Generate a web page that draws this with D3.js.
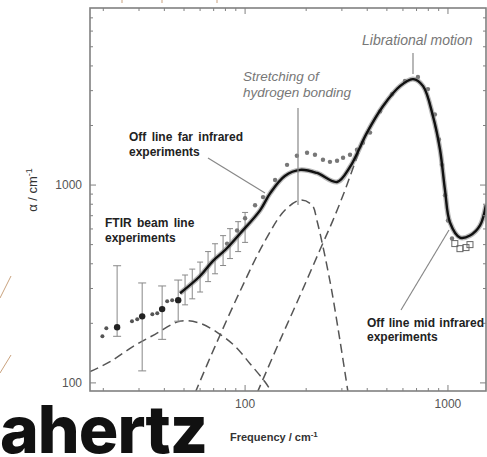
<!DOCTYPE html>
<html><head><meta charset="utf-8">
<script src="https://cdn.jsdelivr.net/npm/d3@7/dist/d3.min.js"></script>
<style>body{margin:0;background:#fff}svg{display:block}</style>
</head><body>
<svg id="c" width="487" height="457"></svg>
<script>
// ---------- data ----------
const xTicks = [100, 1000];
const yTicks = [100, 1000];
const xMinorTicks = [20,30,40,50,60,70,80,90,200,300,400,500,600,700,800,900];
const yMinorTicks = [200,300,400,500,600,700,800,900,2000,3000,4000,5000,6000,7000];

// main fitted / averaged spectrum
const mainFreq  = [47.8, 60, 69.5, 80, 94.5, 118.5, 133, 157, 187, 226, 284, 329, 399, 478, 580, 673, 754, 844, 914, 967, 1023, 1146, 1284, 1439, 1538];
const mainAlpha = [284, 347, 414, 471, 569, 745, 910, 1111, 1193, 1151, 1036, 1235, 1841, 2502, 3162, 3432, 3162, 2223, 1509, 943, 647, 543, 556, 625, 791];

// off line far infrared experiment points
const farFreq  = [81.5, 91.3, 100, 112, 122.6, 140.6, 161, 180, 202, 221, 242, 262, 284, 304, 329, 356, 381, 413, 463, 530, 614, 711, 797, 862, 903, 934, 967, 1000, 1047];
const farAlpha = [506, 589, 679, 791, 869, 1061, 1265, 1406, 1456, 1422, 1342, 1310, 1326, 1373, 1422, 1509, 1637, 1841, 2357, 2877, 3357, 3516, 3055, 2276, 1698, 1265, 889, 662, 537];

// FTIR beam line points with error bars (low frequency)
const ftirFreq  = [23.4, 31.1, 39.0, 46.8];
const ftirAlpha = [191, 217, 236, 262];
const ftirLow   = [172, 115, 166, 205];
const ftirHigh  = [391, 320, 309, 331];
const ftirSmallFreq  = [19.8, 20.7, 27.7, 29.4, 34.9, 36.9, 41.3, 43.7];
const ftirSmallAlpha = [172, 189, 205, 210, 222, 225, 259, 262];

// FTIR error bars along the curve
const barFreq = [50.6, 54.9, 60, 65.7, 71.1, 77.9, 84.3, 92.4, 100];
const barLow  = [248, 266, 288, 325, 356, 392, 425, 461, 513];
const barHigh = [351, 376, 408, 461, 505, 555, 602, 653, 727];

// off line mid infrared points (squares near the minimum)
const midFreq  = [1081, 1146, 1227, 1284];
const midAlpha = [506, 477, 483, 500];

// model components (dashed)
const comp1Freq  = [17.2, 21.6, 28.1, 36, 47.8, 60, 75.3, 89.3, 105.8, 125.5, 136];
const comp1Alpha = [114, 128, 153, 176, 205, 200, 176, 153, 125, 101, 89];
const comp2Freq  = [56.7, 71.1, 94.5, 125.5, 157, 187, 214, 226, 262, 294, 322];
const comp2Alpha = [89, 153, 291, 524, 745, 839, 791, 662, 327, 162, 89];
const comp3Freq  = [114.6, 148.6, 187, 234, 271, 311, 348, 399, 478, 580, 673, 754, 844, 914];
const comp3Alpha = [89, 164, 278, 471, 663, 943, 1295, 1841, 2502, 3162, 3432, 3162, 2223, 1509];

// ---------- drawing ----------
const svg = d3.select('#c');
const L = 90, R = 486, T = 8, B = 391;
const x = d3.scaleLog().domain([17.2, 1540]).range([L, R]);
const y = d3.scaleLog().domain([91, 7850]).range([B, T]);

svg.append('rect').attr('width',487).attr('height',457).attr('fill','#fff');

const defs = svg.append('defs');
defs.append('clipPath').attr('id','clip').append('rect')
  .attr('x',L).attr('y',T).attr('width',R-L).attr('height',B-T);

const plot = svg.append('g').attr('clip-path','url(#clip)');
const line = d3.line().x(d=>x(d[0])).y(d=>y(d[1])).curve(d3.curveCatmullRom.alpha(0.5));
const zip = (a,b)=>a.map((v,i)=>[v,b[i]]);

// dashed components
[[comp1Freq,comp1Alpha],[comp2Freq,comp2Alpha],[comp3Freq,comp3Alpha]].forEach(([f,a])=>{
  plot.append('path').attr('d', line(zip(f,a)))
    .attr('fill','none').attr('stroke','#555').attr('stroke-width',1.5)
    .attr('stroke-dasharray','9,5');
});

// pointer lines
const ptr = [[298,108,298,205],[413,53,413,74],[208,158,265,193],[401,310,449,230]];
svg.append('g').selectAll('line').data(ptr).join('line')
  .attr('x1',d=>d[0]).attr('y1',d=>d[1]).attr('x2',d=>d[2]).attr('y2',d=>d[3])
  .attr('stroke','#888').attr('stroke-width',1.2);

// error bars
const eb = plot.append('g').attr('stroke','#888').attr('stroke-width',1);
ftirFreq.forEach((f,i)=>{
  eb.append('line').attr('x1',x(f)).attr('x2',x(f)).attr('y1',y(ftirLow[i])).attr('y2',y(ftirHigh[i]));
  [ftirLow[i],ftirHigh[i]].forEach(v=>eb.append('line').attr('x1',x(f)-4).attr('x2',x(f)+4).attr('y1',y(v)).attr('y2',y(v)));
});
barFreq.forEach((f,i)=>{
  eb.append('line').attr('x1',x(f)).attr('x2',x(f)).attr('y1',y(barLow[i])).attr('y2',y(barHigh[i]));
  [barLow[i],barHigh[i]].forEach(v=>eb.append('line').attr('x1',x(f)-3).attr('x2',x(f)+3).attr('y1',y(v)).attr('y2',y(v)));
});

// far IR dots
plot.append('g').selectAll('circle').data(zip(farFreq,farAlpha)).join('circle')
  .attr('cx',d=>x(d[0])).attr('cy',d=>y(d[1])).attr('r',2.2).attr('fill','#777');

// main curve
plot.append('path').attr('d', line(zip(mainFreq,mainAlpha)))
  .attr('fill','none').attr('stroke','#888').attr('stroke-width',5).attr('opacity',0.6);
plot.append('path').attr('d', line(zip(mainFreq,mainAlpha)))
  .attr('fill','none').attr('stroke','#111').attr('stroke-width',2.4);

// FTIR dots
plot.append('g').selectAll('circle').data(zip(ftirSmallFreq,ftirSmallAlpha)).join('circle')
  .attr('cx',d=>x(d[0])).attr('cy',d=>y(d[1])).attr('r',2).attr('fill','#555');
plot.append('g').selectAll('circle').data(zip(ftirFreq,ftirAlpha)).join('circle')
  .attr('cx',d=>x(d[0])).attr('cy',d=>y(d[1])).attr('r',3.2).attr('fill','#222');

// mid IR squares
plot.append('g').selectAll('rect').data(zip(midFreq,midAlpha)).join('rect')
  .attr('x',d=>x(d[0])-3).attr('y',d=>y(d[1])-3).attr('width',6).attr('height',6)
  .attr('fill','none').attr('stroke','#666').attr('stroke-width',1);

// frame and ticks
const ax = svg.append('g').attr('stroke','#808080');
ax.append('rect').attr('x',L).attr('y',T).attr('width',R-L).attr('height',B-T)
  .attr('fill','none').attr('stroke-width',1.6);
xTicks.concat(xMinorTicks).forEach(v=>{
  const len = xTicks.includes(v)?6:3;
  ax.append('line').attr('x1',x(v)).attr('x2',x(v)).attr('y1',B).attr('y2',B-len).attr('stroke-width',1);
  ax.append('line').attr('x1',x(v)).attr('x2',x(v)).attr('y1',T).attr('y2',T+len).attr('stroke-width',1);
});
yTicks.concat(yMinorTicks).forEach(v=>{
  const len = yTicks.includes(v)?6:3;
  ax.append('line').attr('y1',y(v)).attr('y2',y(v)).attr('x1',L).attr('x2',L+len).attr('stroke-width',1);
  ax.append('line').attr('y1',y(v)).attr('y2',y(v)).attr('x1',R).attr('x2',R-len).attr('stroke-width',1);
});

// tick labels
const tf = 'Liberation Sans, Arial, sans-serif';
svg.append('g').selectAll('text').data(xTicks).join('text')
  .attr('x',d=>x(d)).attr('y',408).attr('text-anchor','middle')
  .attr('font-family',tf).attr('font-size',12).attr('fill','#555').text(d=>d);
svg.append('g').selectAll('text').data(yTicks).join('text')
  .attr('x',82).attr('y',d=>y(d)+4).attr('text-anchor','end')
  .attr('font-family',tf).attr('font-size',12).attr('fill','#555').text(d=>d);

// axis titles
const xt = svg.append('text').attr('x',230).attr('y',441).attr('font-family',tf)
  .attr('font-size',11).attr('font-weight','bold').attr('fill','#333');
xt.append('tspan').text('Frequency / cm');
xt.append('tspan').attr('dy',-4).attr('font-size',8).text('-1');
const yt = svg.append('text').attr('transform','translate(37,190) rotate(-90)')
  .attr('text-anchor','middle').attr('font-family',tf)
  .attr('font-size',13).attr('fill','#333');
yt.append('tspan').text('α / cm');
yt.append('tspan').attr('dy',-5).attr('font-size',9).text('-1');

// annotations
function label(lines, x0, y0, opts){
  const t = svg.append('text').attr('font-family',tf).attr('font-size',opts.size)
    .attr('font-weight',opts.weight||'normal').attr('font-style',opts.style||'normal')
    .attr('fill',opts.color).attr('word-spacing',opts.ws||0);
  lines.forEach((s,i)=>t.append('tspan').attr('x',x0).attr('y',y0+i*opts.lh).text(s));
}
label(['Librational motion'], 362, 45, {size:14, style:'italic', color:'#777', lh:16});
label(['Stretching of','hydrogen bonding'], 243, 81, {size:13.5, style:'italic', color:'#777', lh:16});
label(['Off line far infrared','experiments'], 129, 141, {size:12, weight:'bold', color:'#222', lh:15, ws:2});
label(['FTIR beam line','experiments'], 105, 227, {size:12, weight:'bold', color:'#222', lh:15, ws:2});
label(['Off line mid infrared','experiments'], 367, 327, {size:12, weight:'bold', color:'#222', lh:14, ws:1});

// decorative page elements
svg.append('text').attr('x',0).attr('y',453).attr('text-anchor','start')
  .attr('font-family','Inter, Roboto, sans-serif').attr('font-weight',800)
  .attr('font-size',66).attr('letter-spacing',-1).attr('fill','#111').text('ahertz');
const deco = [[122,0,122,3],[162,0,162,3],[217,0,217,3],[0,298,11,276],[0,373,11,355]];
svg.append('g').selectAll('line').data(deco).join('line')
  .attr('x1',d=>d[0]).attr('y1',d=>d[1]).attr('x2',d=>d[2]).attr('y2',d=>d[3])
  .attr('stroke','#c9a27e').attr('stroke-width',1);
</script>
</body></html>
